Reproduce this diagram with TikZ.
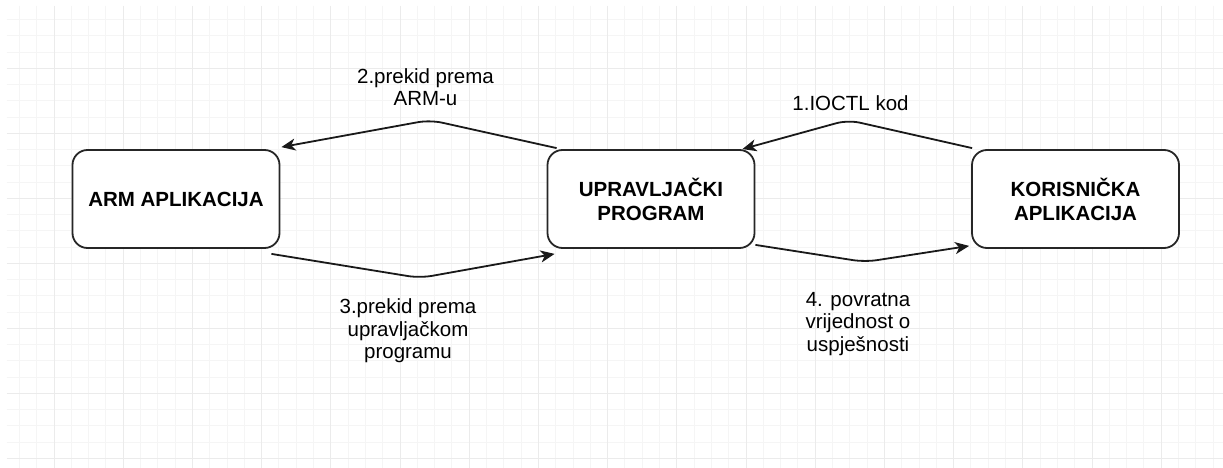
\documentclass[tikz,border=0pt]{standalone}
\usepackage{fontspec}
\setmainfont{Liberation Sans}
\usetikzlibrary{arrows.meta,calc}
\definecolor{gridminor}{HTML}{F5F5F5}
\definecolor{gridmajor}{HTML}{EBEBEB}
\tikzset{
  box/.style={draw=black!85, line width=1.8pt, rounded corners=15pt, fill=white,
    minimum width=207pt, minimum height=98pt, align=center, inner sep=0pt,
    font=\fontsize{20.5}{24}\selectfont\bfseries},
  lbl/.style={align=center, inner sep=0pt, font=\fontsize{20.5}{22.5}\selectfont},
  conn/.style={draw=black!90, line width=1.8pt, rounded corners=12pt,
    -{Stealth[length=14pt,width=12pt,inset=4pt]}},
  gminor/.style={draw=gridminor, line width=1pt},
  gmajor/.style={draw=gridmajor, line width=1pt}
}
\begin{document}
\begin{tikzpicture}[x=1pt,y=-1pt]
\useasboundingbox (0,0) rectangle (1223,468);
\fill[white] (0,0) rectangle (1223,468);
% grid
\begin{scope}
\clip (6.7,6) rectangle (1223,468);
\foreach \i in {0,...,70} {
  \pgfmathtruncatemacro{\m}{mod(\i,4)}
  \ifnum\m=3\relax\else
    \draw[gminor] ({2.1+17.3*\i},6) -- ({2.1+17.3*\i},468);
  \fi
}
\foreach \j in {1,...,28} {
  \pgfmathtruncatemacro{\m}{mod(\j,4)}
  \ifnum\m=0\relax\else
    \draw[gminor] (6.7,{3.3+16.25*\j}) -- (1223,{3.3+16.25*\j});
  \fi
}
\foreach \i in {3,7,...,70} {
  \draw[gmajor] ({2.1+17.3*\i},6) -- ({2.1+17.3*\i},468);
}
\foreach \j in {4,8,...,28} {
  \draw[gmajor] (6.7,{3.3+16.25*\j}) -- (1223,{3.3+16.25*\j});
}
\end{scope}
% boxes
\node[box] (arm) at (176,199) {ARM APLIKACIJA};
\node[box] (upr) at (651,199) {UPRAVLJAČKI\\PROGRAM};
\node[box] (kor) at (1075.5,199) {KORISNIČKA\\APLIKACIJA};
% connectors
\draw[conn] ($(kor.north west)+(1,-1)$) -- (848,120) -- ($(upr.north east)+(-13,0)$);
\draw[conn] ($(upr.north west)+(10,-1)$) -- (430,120) -- ($(arm.north east)+(1,-2)$);
\draw[conn] ($(arm.south east)+(-9,5)$) -- (420,278) -- ($(upr.south west)+(8,5)$);
\draw[conn] ($(upr.south east)+(0,-4)$) -- (865,262) -- ($(kor.south west)+(-2,-3)$);
% labels
\node[lbl] (l1) at (850.5,103) {1.IOCTL kod};
\node[lbl] (l2) at (425.5,87) {2.prekid prema\\ARM-u};
\node[lbl] (l3) at (408,331) {3.prekid prema\\upravljačkom\\programu};
\node[lbl] (l4) at (858,324) {4. povratna\\vrijednost o\\uspješnosti};
\end{tikzpicture}
\end{document}
